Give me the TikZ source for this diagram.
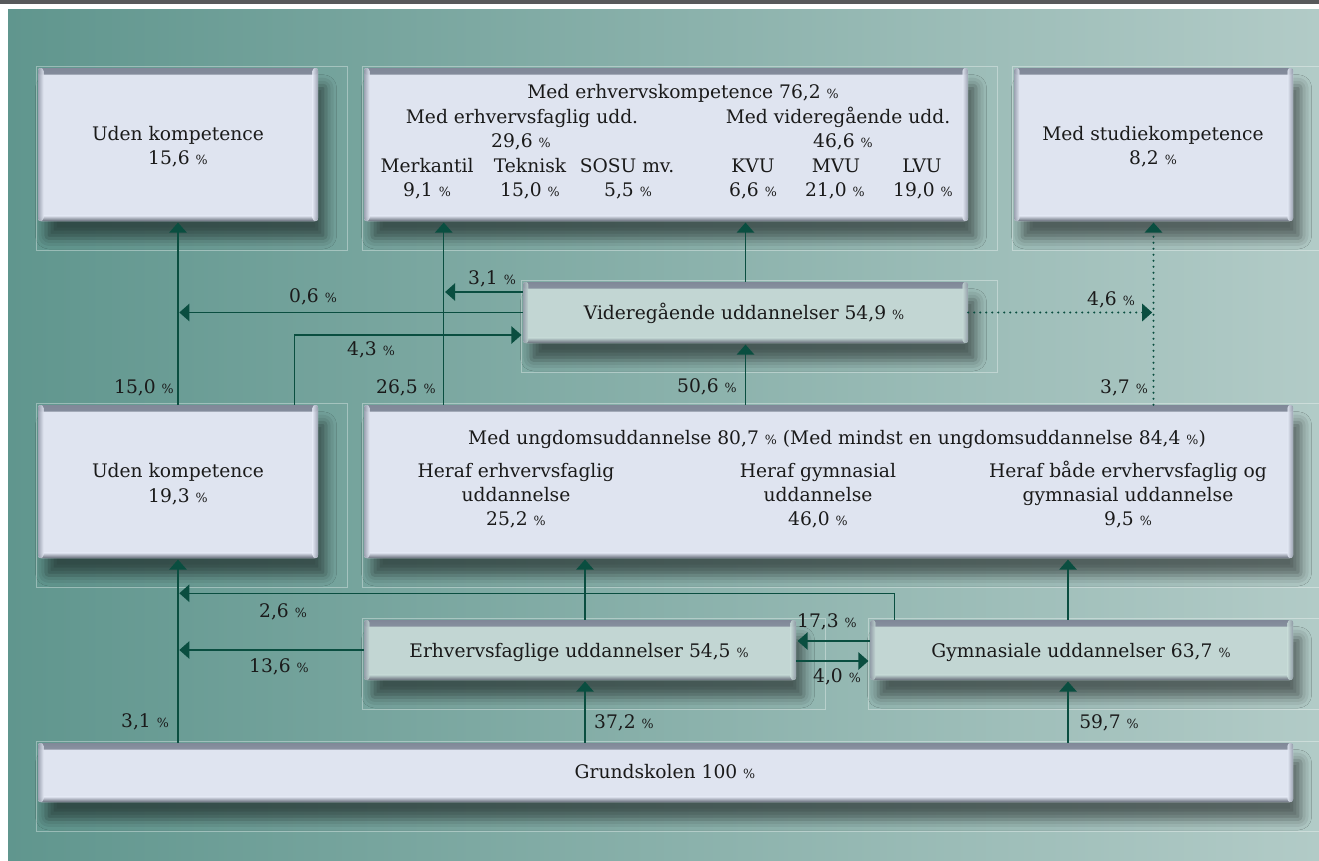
\documentclass[tikz,border=0pt]{standalone}
\usepackage{fontspec}
\setmainfont{DejaVu Serif}
\usetikzlibrary{arrows.meta,calc,fit,shadows.blur}

\definecolor{bgleft}{RGB}{96,150,142}
\definecolor{bgmid}{RGB}{124,167,160}
\definecolor{bgright}{RGB}{178,203,199}
\definecolor{topbar}{RGB}{88,89,91}
\definecolor{boxlight}{RGB}{223,228,240}
\definecolor{boxgreen}{RGB}{194,214,211}
\definecolor{bevel}{RGB}{128,136,152}
\definecolor{flowgreen}{RGB}{10,78,64}
\definecolor{ink}{RGB}{26,26,26}

\newcommand{\pc}{~{\fontsize{9.5}{9.5}\selectfont\%}}

\tikzset{
  panel/.style={fill=#1, inner sep=0pt, rounded corners=2pt,
    blur shadow={shadow xshift=6pt, shadow yshift=-13pt, shadow blur radius=8pt, shadow opacity=50},
    path picture={
      \fill[top color=bevel, bottom color=#1] (path picture bounding box.north west) rectangle ([yshift=-5pt]path picture bounding box.north east);
      \fill[top color=#1, bottom color=bevel!80!black] ([yshift=4pt]path picture bounding box.south west) rectangle (path picture bounding box.south east);
      \fill[left color=bevel, right color=#1, fill opacity=.7] (path picture bounding box.south west) rectangle ([xshift=4pt]path picture bounding box.north west);
      \fill[left color=#1, right color=bevel, fill opacity=.7] ([xshift=-4pt]path picture bounding box.south east) rectangle (path picture bounding box.north east);
    }},
  plate/.style={draw=white, draw opacity=.35, line width=.6pt},
  txt/.style={anchor=base, inner sep=0pt, text=ink, font=\fontsize{14}{17}\selectfont},
  flow/.style={draw=flowgreen, line width=1.1pt, shorten >=1pt, -{Triangle[length=7.5pt,width=13pt]}},
  dotflow/.style={flow, dash pattern=on 0pt off 4.5pt, line cap=round, line width=1.6pt}
}

\begin{document}
\begin{tikzpicture}[x=0.75pt,y=-0.75pt]
  \useasboundingbox (0,0) rectangle (1319,860);
  \fill[topbar] (0,0) rectangle (1319,3.5);
  \shade[left color=bgleft, middle color=bgmid, right color=bgright] (8,9) rectangle (1319,860);

  \node[panel=boxlight, fit={(38,68) (318,221)}] (udenA) {};
  \node[panel=boxlight, fit={(364,68) (968,221)}] (erhvK) {};
  \node[panel=boxlight, fit={(1014,68) (1293,221)}] (studK) {};
  \node[panel=boxgreen, fit={(523,282) (968,343)}] (vid) {};
  \node[panel=boxlight, fit={(38,405) (318,558)}] (udenB) {};
  \node[panel=boxlight, fit={(364,405) (1293,558)}] (ungd) {};
  \node[panel=boxgreen, fit={(364,620) (796,680)}] (erhvU) {};
  \node[panel=boxgreen, fit={(870,620) (1293,680)}] (gymU) {};
  \node[panel=boxlight, fit={(38,743) (1293,802)}] (grund) {};

  \foreach \b in {udenA,erhvK,studK,vid,udenB,ungd,erhvU,gymU,grund}
    \draw[plate] ($(\b.north west)+(-1,-1)$) rectangle ($(\b.south east)+(29,29)$);

  \node[txt] (udenAt) at (178,140) {Uden kompetence};
  \node[txt] (udenAp) at (178,164) {15,6\pc};
  \node[txt] (studKt) at (1153,140) {Med studiekompetence};
  \node[txt] (studKp) at (1153,164) {8,2\pc};
  \node[txt] (udenBt) at (178,477) {Uden kompetence};
  \node[txt] (udenBp) at (178,502) {19,3\pc};

  \node[txt] (erhvKt) at (683,98) {Med erhvervskompetence 76,2\pc};
  \node[txt] (efagt) at (522,123) {Med erhvervsfaglig udd.};
  \node[txt] (efagp) at (521,147) {29,6\pc};
  \node[txt] (merkt) at (427,172) {Merkantil};
  \node[txt] (merkp) at (427,196) {9,1\pc};
  \node[txt] (tekt) at (530,172) {Teknisk};
  \node[txt] (tekp) at (530,196) {15,0\pc};
  \node[txt] (sosut) at (627,172) {SOSU mv.};
  \node[txt] (sosup) at (628,196) {5,5\pc};
  \node[txt] (vidut) at (838,123) {Med videregående udd.};
  \node[txt] (vidup) at (843,147) {46,6\pc};
  \node[txt] (kvut) at (753,172) {KVU};
  \node[txt] (kvup) at (753,196) {6,6\pc};
  \node[txt] (mvut) at (836,172) {MVU};
  \node[txt] (mvup) at (835,196) {21,0\pc};
  \node[txt] (lvut) at (922,172) {LVU};
  \node[txt] (lvup) at (923,196) {19,0\pc};

  \node[txt] (vidt) at (744,319) {Videregående uddannelser 54,9\pc};

  \node[txt] (ungdt) at (837,444) {Med ungdomsuddannelse 80,7\pc{} (Med mindst en ungdomsuddannelse 84,4\pc)};
  \node[txt] (herafE) at (516,477) {Heraf erhvervsfaglig};
  \node[txt] (herafE2) at (516,501) {uddannelse};
  \node[txt] (herafEp) at (516,525) {25,2\pc};
  \node[txt] (herafG) at (818,477) {Heraf gymnasial};
  \node[txt] (herafG2) at (818,501) {uddannelse};
  \node[txt] (herafGp) at (818,525) {46,0\pc};
  \node[txt] (herafB) at (1128,477) {Heraf både ervhervsfaglig og};
  \node[txt] (herafB2) at (1128,501) {gymnasial uddannelse};
  \node[txt] (herafBp) at (1128,525) {9,5\pc};

  \node[txt] (erhvUt) at (579,657) {Erhvervsfaglige uddannelser 54,5\pc};
  \node[txt] (gymUt) at (1081,657) {Gymnasiale uddannelser 63,7\pc};
  \node[txt] (grundt) at (665,778) {Grundskolen 100\pc};

  \coordinate (ungdL) at ($(ungd.north west)+(80,0)$);
  \coordinate (erhvX) at ($(erhvU.south)+(5,0)$);
  \coordinate (gymX) at ($(gymU.south)+(-13.5,0)$);

  \draw[flow] (udenB.north) -- (udenA.south);
  \draw[flow] (ungdL) -- (ungdL |- erhvK.south);
  \draw[flow] (vid.north) -- (vid.north |- erhvK.south);
  \draw[flow] (vid.south |- ungd.north) -- (vid.south);
  \draw[flow] ($(vid.west)+(0,-20.5)$) coordinate (v1) -- (v1 -| ungdL);
  \draw[flow] (vid.west) -- (vid.west -| udenA.south);
  \draw[flow] ($(udenB.north west)+(257,0)$) |- ($(vid.west)+(0,22.5)$);
  \draw[dotflow] (vid.east) -- (vid.east -| studK.south);
  \draw[dotflow] (ungd.north -| studK.south) -- (studK.south);

  \draw[flow] (grund.north -| udenB.south) -- (udenB.south);
  \draw[flow] (grund.north -| erhvX) -- (erhvX);
  \draw[flow] (grund.north -| gymX) -- (gymX);
  \draw[flow] (erhvX |- erhvU.north) -- (erhvX |- ungd.south);
  \draw[flow] (gymX |- gymU.north) -- (gymX |- ungd.south);
  \draw[flow] (erhvU.west) -- (erhvU.west -| udenB.south);
  \draw[flow] ($(gymU.north west)+(25,0)$) |- ($(udenB.south)+(0,35)$);
  \draw[flow] ($(gymU.west)+(0,-9)$) coordinate (g1) -- (g1 -| erhvU.east);
  \draw[flow] ($(erhvU.east)+(0,11)$) coordinate (e1) -- (e1 -| gymU.west);

  \node[txt] (l150) at (144,393) {15,0\pc};
  \node[txt] (l265) at (406,393) {26,5\pc};
  \node[txt] (l06) at (313,302) {0,6\pc};
  \node[txt] (l31a) at (492,284) {3,1\pc};
  \node[txt] (l43) at (371,355) {4,3\pc};
  \node[txt] (l506) at (707,392) {50,6\pc};
  \node[txt] (l46) at (1111,305) {4,6\pc};
  \node[txt] (l37) at (1124,393) {3,7\pc};
  \node[txt] (l26) at (283,617) {2,6\pc};
  \node[txt] (l136) at (279,672) {13,6\pc};
  \node[txt] (l31b) at (145,727) {3,1\pc};
  \node[txt] (l372) at (624,728) {37,2\pc};
  \node[txt] (l597) at (1109,728) {59,7\pc};
  \node[txt] (l173) at (827,627) {17,3\pc};
  \node[txt] (l40) at (837,682) {4,0\pc};
\end{tikzpicture}
\end{document}
